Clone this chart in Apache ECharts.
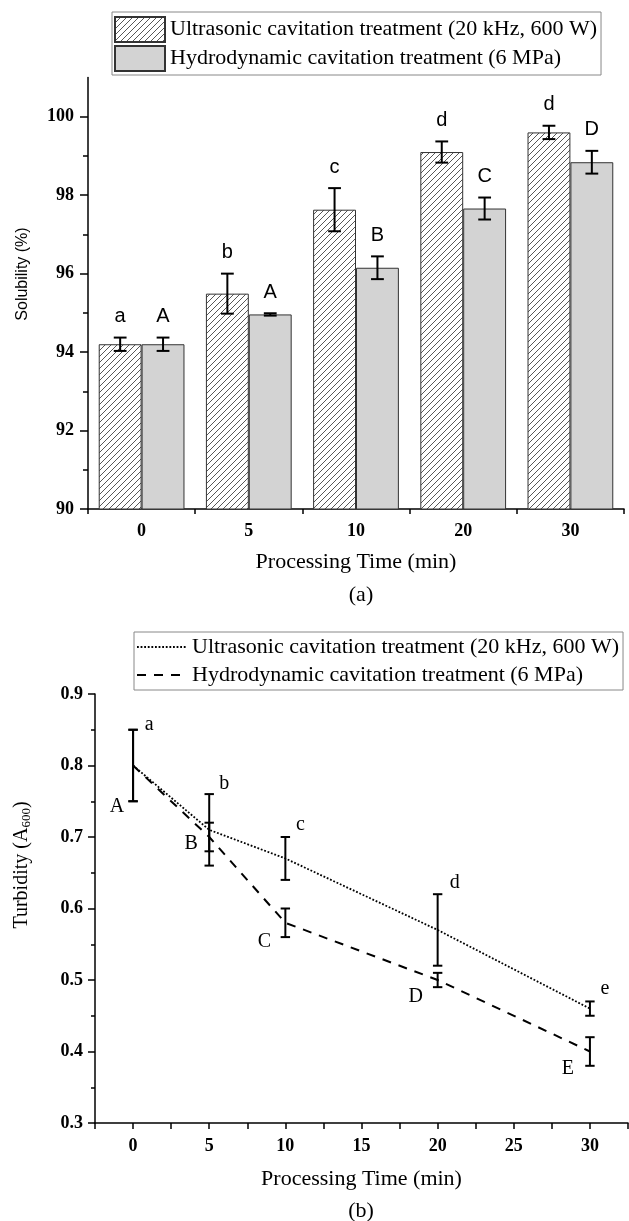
<!DOCTYPE html>
<html><head><meta charset="utf-8">
<script src="https://cdn.jsdelivr.net/npm/echarts@6/dist/echarts.min.js"></script>
<style>html,body{margin:0;padding:0;background:#fff}#c{width:629px;height:1221px}</style>
</head><body><div id="c"></div><script>
// ---------- data: (a) solubility ----------
const categories = ['0', '5', '10', '20', '30'];
const ultraSol = [94.2, 95.49, 97.63, 99.1, 99.6];
const ultraSolErr = [0.17, 0.51, 0.55, 0.27, 0.17];
const hydroSol = [94.2, 94.96, 96.15, 97.66, 98.84];
const hydroSolErr = [0.17, 0.03, 0.29, 0.28, 0.29];
const ultraSolLetters = ['a', 'b', 'c', 'd', 'd'];
const hydroSolLetters = ['A', 'A', 'B', 'C', 'D'];
const solTicks = [90, 92, 94, 96, 98, 100];
const solMinorTicks = [91, 93, 95, 97, 99];
// ---------- data: (b) turbidity ----------
const times = [0, 5, 10, 20, 30];
const ultraTurb = [0.80, 0.71, 0.67, 0.57, 0.46];
const ultraTurbErr = [0.05, 0.05, 0.03, 0.05, 0.01];
const hydroTurb = [0.80, 0.70, 0.58, 0.50, 0.40];
const hydroTurbErr = [0.05, 0.02, 0.02, 0.01, 0.02];
const ultraTurbLetters = ['a', 'b', 'c', 'd', 'e'];
const hydroTurbLetters = ['A', 'B', 'C', 'D', 'E'];
const ultraName = 'Ultrasonic cavitation treatment (20 kHz, 600 W)';
const hydroName = 'Hydrodynamic cavitation treatment (6 MPa)';

// ---------- styles ----------
const SERIF = '"Liberation Serif","Times New Roman",serif';
const SANS = '"Liberation Sans",Arial,sans-serif';
// pixel offsets of the significance letters in (b)
const ultraLetterOff = [[16, -5], [15, -10], [15, -12], [17, -11], [15, -13]];
const hydroLetterOff = [[-16, 5], [-18, -8], [-21, 5], [-22, 10], [-22, 3]];

function hatchCanvas() {
  const c = document.createElement('canvas');
  c.width = 6; c.height = 6;
  const g = c.getContext('2d');
  g.fillStyle = '#fff'; g.fillRect(0, 0, 6, 6);
  g.strokeStyle = '#444'; g.lineWidth = 0.9;
  g.beginPath();
  g.moveTo(0, 6); g.lineTo(6, 0);
  g.moveTo(-1, 1); g.lineTo(1, -1);
  g.moveTo(5, 7); g.lineTo(7, 5);
  g.stroke();
  return c;
}
const hatch = { image: hatchCanvas(), repeat: 'repeat' };

function solErr(sign, vals, errs, letters) {
  return function (params, api) {
    const i = params.dataIndex;
    const band = api.size([1, 0])[0];
    const cx = api.coord([i, vals[i]])[0] + sign * band * 0.2;
    const yt = api.coord([i, vals[i] + errs[i]])[1];
    const yb = api.coord([i, vals[i] - errs[i]])[1];
    const hw = 6.4;
    const ls = { stroke: '#000', lineWidth: 2 };
    return { type: 'group', children: [
      { type: 'line', shape: { x1: cx, y1: yt, x2: cx, y2: yb }, style: ls },
      { type: 'line', shape: { x1: cx - hw, y1: yt, x2: cx + hw, y2: yt }, style: ls },
      { type: 'line', shape: { x1: cx - hw, y1: yb, x2: cx + hw, y2: yb }, style: ls },
      { type: 'text', style: { text: letters[i], x: cx, y: yt - 11, align: 'center', verticalAlign: 'bottom',
        fontSize: 20, fontFamily: SANS, fill: '#000' } }
    ]};
  };
}
function turbErr(vals, errs, letters, offs, isUpper) {
  return function (params, api) {
    const i = params.dataIndex;
    const p = api.coord([times[i], vals[i]]);
    const cx = p[0];
    const yt = api.coord([times[i], vals[i] + errs[i]])[1];
    const yb = api.coord([times[i], vals[i] - errs[i]])[1];
    const hw = 4.7;
    const ls = { stroke: '#000', lineWidth: 2 };
    const ay = isUpper ? yb : yt;
    return { type: 'group', children: [
      { type: 'line', shape: { x1: cx, y1: yt, x2: cx, y2: yb }, style: ls },
      { type: 'line', shape: { x1: cx - hw, y1: yt, x2: cx + hw, y2: yt }, style: ls },
      { type: 'line', shape: { x1: cx - hw, y1: yb, x2: cx + hw, y2: yb }, style: ls },
      { type: 'text', style: { text: letters[i], x: cx + offs[i][0], y: ay + offs[i][1], align: 'center', verticalAlign: 'middle',
        fontSize: 20, fontFamily: SERIF, fill: '#000' } }
    ]};
  };
}

const axisLineStyle = { show: true, onZero: false, lineStyle: { color: '#000', width: 1.5 } };
const tickLabel = { fontFamily: SERIF, fontWeight: 'bold', fontSize: 18, color: '#000' };
const nameStyle = { fontFamily: SERIF, fontSize: 22, color: '#000' };
const names = { u1: ultraName, h1: hydroName, u2: ultraName, h2: hydroName };

const chart = echarts.init(document.getElementById('c'), null, { renderer: 'canvas' });
chart.setOption({
  animation: false,
  backgroundColor: '#fff',
  grid: [
    { left: 88, right: 5, top: 77.5, bottom: 712, outerBoundsMode: 'none' },
    { left: 95, right: 1, top: 694, bottom: 98, outerBoundsMode: 'none' }
  ],
  legend: [
    { data: ['u1', 'h1'], formatter: n => names[n], orient: 'vertical', left: 112, top: 12,
      itemWidth: 50, itemHeight: 25, itemGap: 2, padding: [4, 4, 3, 2], icon: 'rect',
      borderColor: '#888', borderWidth: 1, selectedMode: false,
      textStyle: { fontFamily: SERIF, fontSize: 22, color: '#000' } },
    { data: ['u2', 'h2'], formatter: n => names[n],
      orient: 'vertical', left: 134, top: 632,
      itemWidth: 50, itemHeight: 14, itemGap: 6, padding: [4, 4, 4, 2],
      itemStyle: { opacity: 0, color: 'rgba(0,0,0,0)', borderWidth: 0 },
      borderColor: '#888', borderWidth: 1, selectedMode: false,
      textStyle: { fontFamily: SERIF, fontSize: 22, color: '#000' } }
  ],
  xAxis: [
    { type: 'category', gridIndex: 0, data: categories,
      axisLine: axisLineStyle, axisTick: { show: true, length: 5, lineStyle: { width: 1.5, color: '#000' } },
      axisLabel: Object.assign({ margin: 13 }, tickLabel), splitLine: { show: false },
      name: 'Processing Time (min)', nameLocation: 'middle', nameGap: 42, nameTextStyle: nameStyle },
    { type: 'value', gridIndex: 1, min: -2.5, max: 32.5, interval: 2.5,
      axisLine: axisLineStyle, axisTick: { show: true, length: 6, lineStyle: { width: 1.5, color: '#000' } },
      axisLabel: Object.assign({ margin: 14, formatter: v => (Math.abs(v % 5) < 1e-6 && v >= 0 && v <= 30) ? String(v) : '' }, tickLabel),
      splitLine: { show: false },
      name: 'Processing Time (min)', nameLocation: 'middle', nameGap: 45, nameTextStyle: nameStyle }
  ],
  yAxis: [
    { type: 'value', gridIndex: 0, min: 90, max: 101, interval: 1,
      axisLine: axisLineStyle,
      axisTick: { show: true, length: 8, customValues: solTicks, lineStyle: { width: 1.5, color: '#000' } },
      axisLabel: Object.assign({ margin: 14, customValues: solTicks, formatter: v => (v % 2 === 0 && v <= 100) ? String(v) : '' }, tickLabel),
      splitLine: { show: false } },
    { type: 'value', gridIndex: 0, min: 90, max: 101, interval: 1, position: 'left',
      axisLine: { show: false },
      axisTick: { show: true, length: 5, customValues: solMinorTicks, lineStyle: { width: 1.5, color: '#000' } },
      axisLabel: { show: false }, splitLine: { show: false } },
    { type: 'value', gridIndex: 1, min: 0.3, max: 0.9, interval: 0.1,
      axisLine: axisLineStyle,
      axisTick: { show: true, length: 7, lineStyle: { width: 1.5, color: '#000' } },
      minorTick: { show: true, splitNumber: 2, length: 4, lineStyle: { width: 1.5, color: '#000' } },
      axisLabel: Object.assign({ margin: 12, formatter: v => v.toFixed(1) }, tickLabel),
      splitLine: { show: false } }
  ],
  series: [
    { name: 'u1', type: 'bar', xAxisIndex: 0, yAxisIndex: 0, data: ultraSol,
      barGap: '0%', barCategoryGap: '20%',
      itemStyle: { color: hatch, borderColor: '#333', borderWidth: 1 } },
    { name: 'h1', type: 'bar', xAxisIndex: 0, yAxisIndex: 0, data: hydroSol,
      barGap: '0%', barCategoryGap: '20%',
      itemStyle: { color: '#d3d3d3', borderColor: '#333', borderWidth: 1 } },
    { type: 'custom', xAxisIndex: 0, yAxisIndex: 0, z: 5, encode: { x: 0, y: 1 },
      data: categories.map((c, i) => [i, ultraSol[i]]), renderItem: solErr(-1, ultraSol, ultraSolErr, ultraSolLetters) },
    { type: 'custom', xAxisIndex: 0, yAxisIndex: 0, z: 5, encode: { x: 0, y: 1 },
      data: categories.map((c, i) => [i, hydroSol[i]]), renderItem: solErr(1, hydroSol, hydroSolErr, hydroSolLetters) },
    { name: 'u2', type: 'line', xAxisIndex: 1, yAxisIndex: 2, symbol: 'none',
      data: times.map((t, i) => [t, ultraTurb[i]]),
      itemStyle: { color: '#000' }, lineStyle: { color: '#000', width: 1.8, type: [1.8, 1.8] } },
    { name: 'h2', type: 'line', xAxisIndex: 1, yAxisIndex: 2, symbol: 'none',
      data: times.map((t, i) => [t, hydroTurb[i]]),
      itemStyle: { color: '#000' }, lineStyle: { color: '#000', width: 2, type: [9, 8] } },
    { type: 'custom', xAxisIndex: 1, yAxisIndex: 2, z: 5, encode: { x: 0, y: 1 },
      data: times.map((t, i) => [t, ultraTurb[i]]), renderItem: turbErr(ultraTurb, ultraTurbErr, ultraTurbLetters, ultraLetterOff, false) },
    { type: 'custom', xAxisIndex: 1, yAxisIndex: 2, z: 5, encode: { x: 0, y: 1 },
      data: times.map((t, i) => [t, hydroTurb[i]]), renderItem: turbErr(hydroTurb, hydroTurbErr, hydroTurbLetters, hydroLetterOff, true) }
  ],
  graphic: [
    { type: 'text', x: 23, y: 274, rotation: Math.PI / 2,
      style: { text: 'Solubility (%)', align: 'center', verticalAlign: 'middle', fontFamily: SANS, fontSize: 16, fill: '#000' } },
    { type: 'text', x: 22, y: 865, rotation: Math.PI / 2,
      style: { text: 'Turbidity (A{s|600})', align: 'center', verticalAlign: 'middle', fontFamily: SERIF, fontSize: 20, fill: '#000',
        rich: { s: { fontFamily: SERIF, fontSize: 13, padding: [9, 0, 0, 0], fill: '#000' } } } },
    { type: 'text', x: 361, y: 595,
      style: { text: '(a)', align: 'center', verticalAlign: 'middle', fontFamily: SERIF, fontSize: 22, fill: '#000' } },
    { type: 'text', x: 361, y: 1211,
      style: { text: '(b)', align: 'center', verticalAlign: 'middle', fontFamily: SERIF, fontSize: 22, fill: '#000' } }
  ]
});
</script></body></html>
